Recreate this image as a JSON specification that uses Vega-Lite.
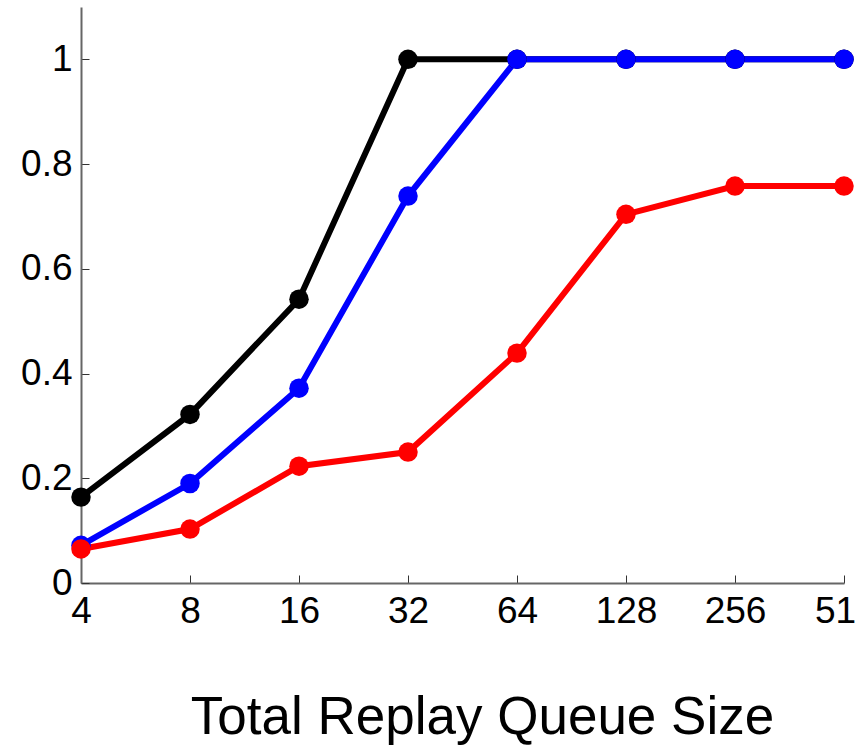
{
  "$schema": "https://vega.github.io/schema/vega-lite/v6.json",
  "autosize": "none",
  "width": 763,
  "height": 576,
  "padding": {"left": 81, "top": 7, "right": 23, "bottom": 162},
  "background": "white",
  "config": {"view": {"stroke": null}},
  "data": {"values": [
    {"s": "A", "size": 4, "v": 0.164},
    {"s": "A", "size": 8, "v": 0.322},
    {"s": "A", "size": 16, "v": 0.542},
    {"s": "A", "size": 32, "v": 1.0},
    {"s": "A", "size": 64, "v": 1.0},
    {"s": "A", "size": 128, "v": 1.0},
    {"s": "A", "size": 256, "v": 1.0},
    {"s": "A", "size": 512, "v": 1.0},
    {"s": "B", "size": 4, "v": 0.072},
    {"s": "B", "size": 8, "v": 0.19},
    {"s": "B", "size": 16, "v": 0.372},
    {"s": "B", "size": 32, "v": 0.739},
    {"s": "B", "size": 64, "v": 1.0},
    {"s": "B", "size": 128, "v": 1.0},
    {"s": "B", "size": 256, "v": 1.0},
    {"s": "B", "size": 512, "v": 1.0},
    {"s": "C", "size": 4, "v": 0.065},
    {"s": "C", "size": 8, "v": 0.103},
    {"s": "C", "size": 16, "v": 0.223},
    {"s": "C", "size": 32, "v": 0.25},
    {"s": "C", "size": 64, "v": 0.439},
    {"s": "C", "size": 128, "v": 0.704},
    {"s": "C", "size": 256, "v": 0.758},
    {"s": "C", "size": 512, "v": 0.758}
  ]},
  "encoding": {
    "x": {
      "field": "size", "type": "quantitative",
      "scale": {"type": "log", "base": 2, "domain": [4, 512], "nice": false},
      "axis": {
        "title": "Total Replay Queue Size",
        "values": [4, 8, 16, 32, 64, 128, 256, 512],
        "labelExpr": "datum.value == 512 ? '51' : datum.label",
        "labelOffset": {"condition": {"test": "datum.value == 512", "value": -9}, "value": 0},
        "grid": false,
        "domainColor": "#666666", "domainWidth": 2,
        "tickColor": "#333333", "tickWidth": 1, "tickSize": -8,
        "labelFont": "Liberation Sans", "labelFontSize": 37, "labelColor": "black",
        "labelBaseline": "alphabetic", "labelPadding": 47,
        "labelFlush": false, "labelOverlap": false,
        "titleFont": "Liberation Sans", "titleFontSize": 53, "titleFontWeight": "normal",
        "titleColor": "black", "titleBaseline": "alphabetic",
        "titleX": 401, "titleY": 150, "titleAlign": "center", "titleAnchor": null
      }
    },
    "y": {
      "field": "v", "type": "quantitative",
      "scale": {"domain": [0, 1.1], "nice": false, "zero": true},
      "axis": {
        "title": null,
        "values": [0, 0.2, 0.4, 0.6, 0.8, 1],
        "format": "~g",
        "grid": false,
        "domainColor": "#666666", "domainWidth": 2,
        "tickColor": "#333333", "tickWidth": 1, "tickSize": -8,
        "labelFont": "Liberation Sans", "labelFontSize": 37, "labelColor": "black",
        "labelPadding": 17, "labelFlush": false, "labelOverlap": false
      }
    },
    "color": {
      "field": "s", "type": "nominal",
      "scale": {"domain": ["A", "B", "C"], "range": ["#000000", "#0000ff", "#ff0000"]},
      "legend": null
    },
    "order": {"field": "size"}
  },
  "layer": [
    {"mark": {"type": "line", "strokeWidth": 6}},
    {"mark": {"type": "point", "filled": true, "shape": "circle", "size": 380, "opacity": 1}, "encoding": {"order": {"field": "s"}}}
  ]
}
